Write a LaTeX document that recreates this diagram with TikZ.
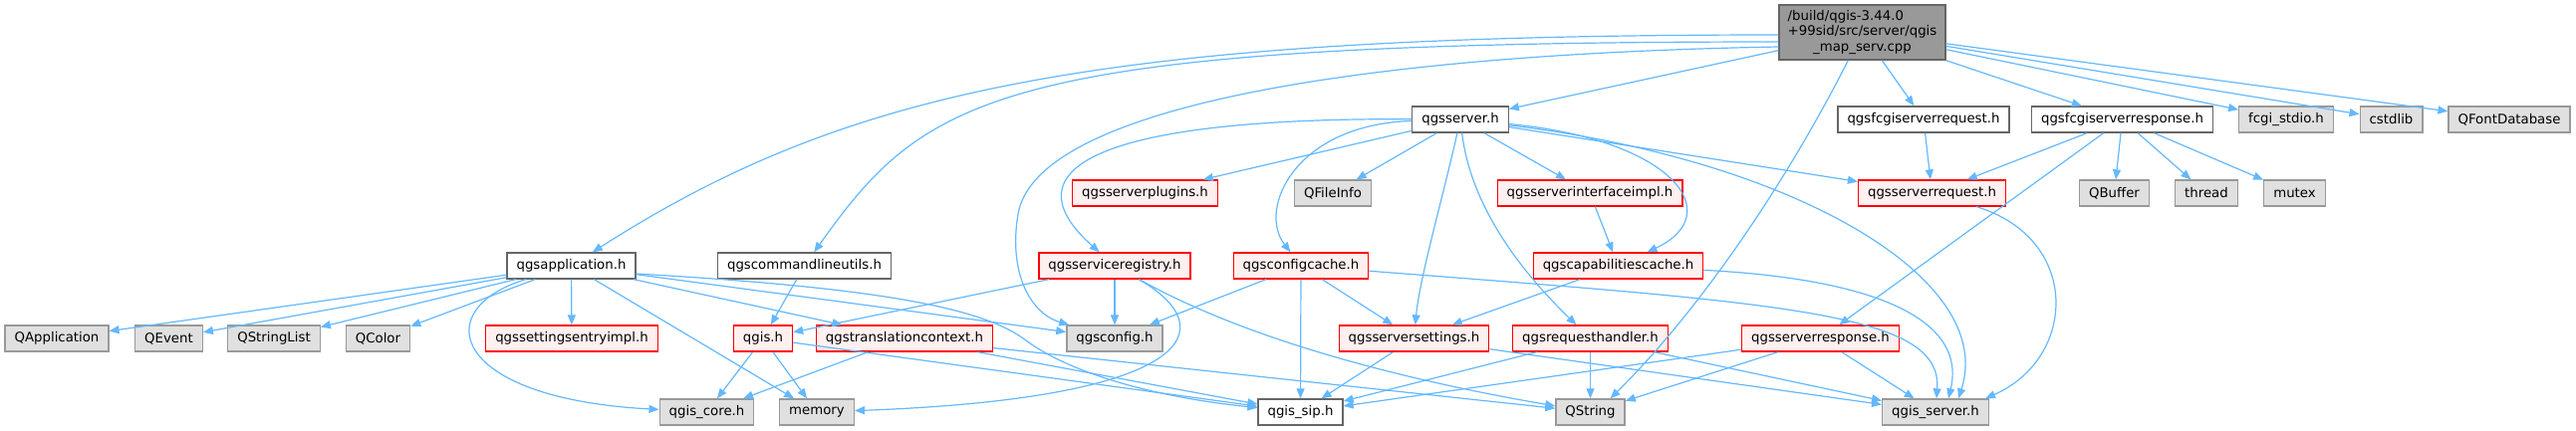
\documentclass[tikz,border=0pt]{standalone}
\usepackage{fontspec}
\setmainfont{DejaVu Sans}
\usepackage{tikz}
\usetikzlibrary{arrows.meta}
\definecolor{depblue}{HTML}{63B8FF}
\definecolor{framegray}{HTML}{666666}
\definecolor{sysframe}{HTML}{999999}
\definecolor{sysfill}{HTML}{E0E0E0}
\definecolor{partfill}{HTML}{FFF0F0}
\definecolor{mainfill}{HTML}{999999}

\begin{document}
\begin{tikzpicture}[x=1pt, y=-1pt,
  hdr/.style={draw=framegray, fill=white, line width=1.3pt, minimum height=26pt,
              inner xsep=9.5pt, inner ysep=0pt, font=\fontsize{13.3}{15.6}\selectfont},
  sys/.style={hdr, draw=sysframe, fill=sysfill},
  partial/.style={hdr, draw=red, fill=partfill},
  dep/.style={-{Triangle[length=10pt, width=8pt]}, depblue, line width=1.2pt}
]
  \useasboundingbox (0,0) rectangle (2586,432);

  % the source file
  \node[hdr, fill=mainfill, minimum width=167pt, minimum height=55pt, inner sep=0pt]
    (main) at (1869.5,32.5)
    {\begin{tabular}{@{}l@{}}/build/qgis-3.44.0\\+99sid/src/server/qgis\\
     \multicolumn{1}{@{}c@{}}{\_map\_serv.cpp}\end{tabular}};

  % first level
  \node[hdr] (srv) at (1466,120) {qgsserver.h};
  \node[hdr] (fcgireq) at (1931,120) {qgsfcgiserverrequest.h};
  \node[hdr] (fcgiresp) at (2130.5,120) {qgsfcgiserverresponse.h};
  \node[sys] (stdio) at (2295,120) {fcgi\_stdio.h};
  \node[sys] (cstd) at (2400.5,120) {cstdlib};
  \node[sys] (fontdb) at (2519,120) {QFontDatabase};

  % second level
  \node[partial] (plug) at (1149.5,194) {qgsserverplugins.h};
  \node[sys] (finfo) at (1338,194) {QFileInfo};
  \node[partial] (iface) at (1596,194) {qgsserverinterfaceimpl.h};
  \node[partial] (sreq) at (1939.5,194) {qgsserverrequest.h};
  \node[sys] (qbuf) at (2122.5,194) {QBuffer};
  \node[sys] (thr) at (2215,194) {thread};
  \node[sys] (mtx) at (2303.5,194) {mutex};

  % third level
  \node[hdr] (app) at (573.5,267) {qgsapplication.h};
  \node[hdr] (cmd) at (807.5,267) {qgscommandlineutils.h};
  \node[partial] (reg) at (1119,267) {qgsserviceregistry.h};
  \node[partial] (cache) at (1306,267) {qgsconfigcache.h};
  \node[partial] (capc) at (1624.5,267) {qgscapabilitiescache.h};

  % fourth level
  \node[sys] (qapp) at (57,340) {QApplication};
  \node[sys] (qevt) at (169.5,340) {QEvent};
  \node[sys] (qsl) at (275,340) {QStringList};
  \node[sys] (qcol) at (379.5,340) {QColor};
  \node[partial] (sett) at (574,340) {qgssettingsentryimpl.h};
  \node[partial] (qgis) at (766,340) {qgis.h};
  \node[partial] (trans) at (908,340) {qgstranslationcontext.h};
  \node[sys] (cfg) at (1119,340) {qgsconfig.h};
  \node[partial] (sset) at (1419.5,340) {qgsserversettings.h};
  \node[partial] (rh) at (1596.5,340) {qgsrequesthandler.h};
  \node[partial] (sresp) at (1827.5,340) {qgsserverresponse.h};

  % bottom level
  \node[sys] (core) at (709.5,414) {qgis\_core.h};
  \node[sys] (mem) at (820,414) {memory};
  \node[hdr] (sip) at (1305.5,414) {qgis\_sip.h};
  \node[sys] (qstr) at (1596.5,414) {QString};
  \node[sys] (qsrv) at (1943,414) {qgis\_server.h};

  % includes of the source file
  \draw[dep] ([yshift=-2.5pt]main.west) .. controls (1100,35) and (850,90) .. (app);
  \draw[dep] ([yshift=-9.5pt]main.west) .. controls (1000,42) and (930,95) .. (cmd);
  \draw[dep] ([yshift=-14.5pt]main.west) .. controls (1350,55) and (1040,110) .. (1022,215)
    .. controls (1012,275) and (1035,315) .. (cfg);
  \draw[dep] (main) -- (srv);
  \draw[dep] (main) .. controls (1795,180) and (1708,310) .. ([xshift=20pt]qstr.north);
  \draw[dep] (main) -- (fcgireq);
  \draw[dep] (main) -- (fcgiresp);
  \draw[dep] (main) -- (stdio);
  \draw[dep] (main) -- (cstd);
  \draw[dep] (main) -- (fontdb);

  % qgsserver.h
  \draw[dep] (srv) -- (plug);
  \draw[dep] (srv) -- (finfo);
  \draw[dep] (srv) .. controls (1100,118) and (1010,170) .. (reg);
  \draw[dep] (srv) .. controls (1300,125) and (1262,210) .. (cache);
  \draw[dep] (srv) .. controls (1448,200) and (1425,280) .. (sset);
  \draw[dep] (srv) .. controls (1478,220) and (1545,290) .. (rh);
  \draw[dep] (srv) -- (iface);
  \draw[dep] (srv) .. controls (1680,140) and (1735,215) .. (capc);
  \draw[dep] (srv) -- (sreq);
  \draw[dep] (srv) .. controls (1800,160) and (2005,280) .. ([xshift=23pt]qsrv.north);

  % fcgi request / response
  \draw[dep] (fcgireq) -- (sreq);
  \draw[dep] (fcgiresp) -- (sreq);
  \draw[dep] (fcgiresp) -- (sresp);
  \draw[dep] (fcgiresp) -- (qbuf);
  \draw[dep] (fcgiresp) -- (thr);
  \draw[dep] (fcgiresp) -- (mtx);
  \draw[dep] (sreq) .. controls (2090,240) and (2085,360) .. ([xshift=-4pt]qsrv.north east);
  \draw[dep] (iface) -- (capc);

  % qgsapplication.h
  \draw[dep] (app) -- (qapp);
  \draw[dep] (app) -- (qevt);
  \draw[dep] (app) -- (qsl);
  \draw[dep] (app) -- (qcol);
  \draw[dep] (app) -- (sett);
  \draw[dep] (app) .. controls (430,310) and (450,400) .. (core);
  \draw[dep] (app) -- (mem);
  \draw[dep] (app) -- (trans);
  \draw[dep] (app) -- (cfg);
  \draw[dep] ([yshift=-8pt]app.east) .. controls (900,290) and (990,312) .. (1030,342)
    .. controls (1070,372) and (1150,398) .. (sip);
  \draw[dep] (cmd) -- (qgis);

  % qgsserviceregistry.h and qgsconfigcache.h
  \draw[dep] (reg) -- (qgis);
  \draw[dep] (reg) -- (cfg);
  \draw[dep] (reg) .. controls (1230,330) and (1200,400) .. (mem);
  \draw[dep] (reg) .. controls (1250,340) and (1400,380) .. (qstr);
  \draw[dep] (cache) -- (cfg);
  \draw[dep] (cache) -- (sip);
  \draw[dep] (cache) -- (sset);
  \draw[dep] (cache) .. controls (1800,305) and (1950,315) .. ([xshift=1pt]qsrv.north);
  \draw[dep] (capc) -- (sset);
  \draw[dep] (capc) .. controls (1880,280) and (1975,320) .. ([xshift=13pt]qsrv.north);

  % fourth level
  \draw[dep] (qgis) -- (core);
  \draw[dep] (qgis) -- (mem);
  \draw[dep] (qgis) -- (sip);
  \draw[dep] (trans) -- (core);
  \draw[dep] (trans) -- (sip);
  \draw[dep] (trans) -- (qstr);
  \draw[dep] (sset) -- (sip);
  \draw[dep] (sset) -- (qsrv);
  \draw[dep] (rh) -- (sip);
  \draw[dep] (rh) -- (qstr);
  \draw[dep] (rh) -- (qsrv);
  \draw[dep] (sresp) -- (sip);
  \draw[dep] (sresp) -- (qstr);
  \draw[dep] (sresp) -- (qsrv);
\end{tikzpicture}
\end{document}
